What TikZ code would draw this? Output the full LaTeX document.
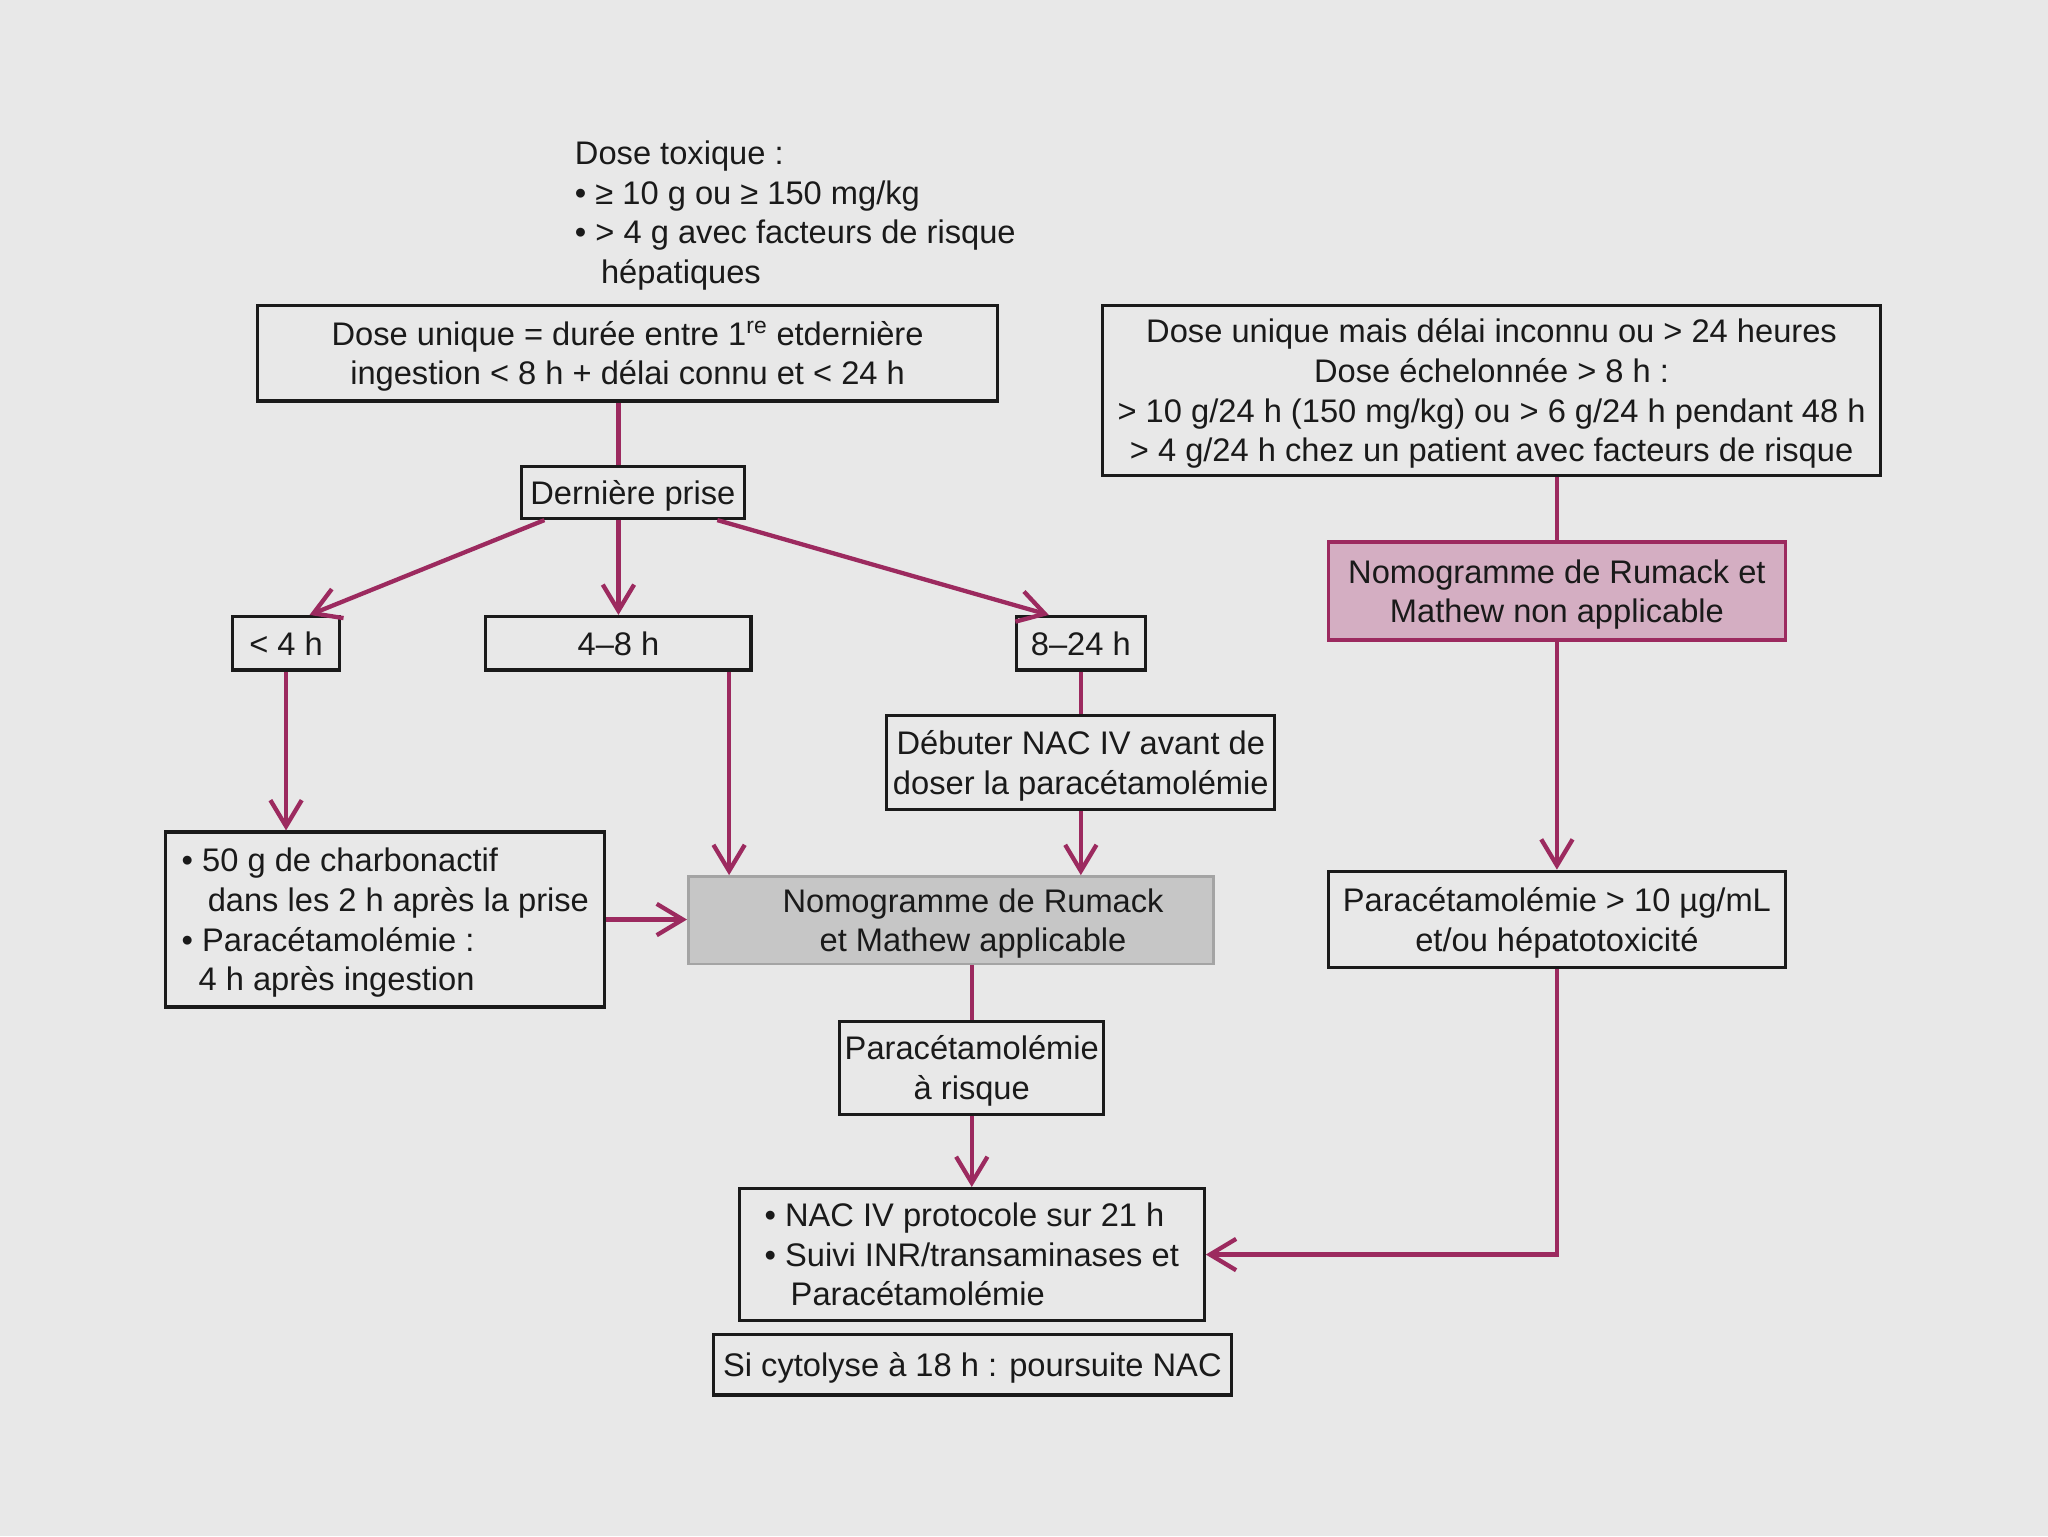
\documentclass[tikz,border=0pt]{standalone}
\usepackage{fontspec}
\setmainfont{Liberation Sans}
\usetikzlibrary{arrows.meta}
\definecolor{bg}{HTML}{E8E8E8}
\definecolor{mag}{HTML}{9C2A5F}
\definecolor{pinkfill}{HTML}{D4AEC2}
\definecolor{grayfill}{HTML}{C6C6C6}
\definecolor{grayline}{HTML}{A4A4A4}
\definecolor{ink}{HTML}{1A1A1A}
\newcommand\fs{\fontsize{25}{30.3}\selectfont}
\newcommand\tS{\rule{0pt}{24pt}}
\newcommand\bS{\rule[-6pt]{0pt}{0pt}}
\begin{document}
\begin{tikzpicture}[x=1pt,y=-1pt,
  box/.style={draw=ink, line width=2.4pt, inner sep=0pt, text=ink, align=center, font=\fs},
  lbox/.style={box, align=left},
  conn/.style={draw=mag, line width=3.3pt, line join=miter},
  arr/.style={conn, -{Straight Barb[length=20pt,width=24pt]}},
  txt/.style={inner sep=0pt, text=ink, font=\fs}
]
\fill[bg] (0,0) rectangle (1568,1176);
\useasboundingbox (0,0) rectangle (1568,1176);

% top free text
\node[txt, align=left, anchor=west] (tox) at (440,162.5)
  {\tS Dose toxique :\\
   \textbullet\ ≥ 10 g ou ≥ 150 mg/kg\\
   \textbullet\ > 4 g avec facteurs de risque\\
   \hspace*{20pt}hépatiques\bS};

% boxes
\node[box, minimum width=567pt, minimum height=73pt] (b1) at (480.5,270.5)
  {\tS Dose unique = durée entre 1\textsuperscript{re} etdernière\\
   ingestion < 8 h + délai connu et < 24 h\bS};
\node[box, minimum width=596pt, minimum height=130pt] (b2) at (1142,299)
  {\tS Dose unique mais délai inconnu ou > 24 heures\\
   Dose échelonnée > 8 h :\\
   > 10 g/24 h (150 mg/kg) ou > 6 g/24 h pendant 48 h\\
   > 4 g/24 h chez un patient avec facteurs de risque\bS};
\node[box, minimum width=171pt, minimum height=40pt] (dern) at (484.5,377) {\tS Dernière prise\bS};
\node[box, minimum width=82pt, minimum height=41pt] (lt4) at (219,492.5) {\tS < 4 h\bS};
\node[box, minimum width=203pt, minimum height=41pt] (h48) at (473.5,492.5) {\tS 4–8 h\bS};
\node[box, minimum width=99pt, minimum height=41pt] (h824) at (827.5,492.5) {\tS 8–24 h\bS};
\node[box, minimum width=297pt, minimum height=72pt] (debut) at (827.5,584)
  {\tS Débuter NAC IV avant de\\doser la paracétamolémie\bS};
\node[lbox, minimum width=336pt, minimum height=134pt] (charb) at (295,704)
  {\tS\textbullet\ 50 g de charbonactif\\
   \hspace*{20pt}dans les 2 h après la prise\\
   \textbullet\ Paracétamolémie :\\
   \hspace*{13pt}4 h après ingestion\bS};
\node[box, draw=grayline, line width=2pt, fill=grayfill, minimum width=402pt, minimum height=67pt] (nomo) at (728,704.5) {};
\node[txt, align=center] (nomotxt) at (745,704.5) {\tS Nomogramme de Rumack\\et Mathew applicable\bS};
\node[box, minimum width=202pt, minimum height=71pt] (parisk) at (744,817.5)
  {\tS Paracétamolémie\\à risque\bS};
\node[lbox, minimum width=356pt, minimum height=101pt] (nac) at (744,960.5)
  {\tS\textbullet\ NAC IV protocole sur 21 h\\
   \textbullet\ Suivi INR/transaminases et\\
   \hspace*{20pt}Paracétamolémie\bS};
\node[box, minimum width=397pt, minimum height=46pt] (cyto) at (744.5,1045)
  {\tS Si cytolyse à 18 h : poursuite NAC\bS};
\node[box, draw=mag, line width=2.5pt, fill=pinkfill, minimum width=350pt, minimum height=75pt] (pink) at (1192,452.5)
  {\tS Nomogramme de Rumack et\\Mathew non applicable\bS};
\node[box, minimum width=350pt, minimum height=74pt] (para10) at (1192,704)
  {\tS Paracétamolémie > 10 µg/mL\\et/ou hépatotoxicité\bS};

% connectors
\draw[conn] (b1.south -| h48.north) -- (dern.north -| h48.north);
\draw[arr] (dern.south -| h48.north) -- (h48.north);
\draw[arr] ([xshift=19pt]dern.south west) -- ([xshift=18pt]lt4.north);
\draw[arr] ([xshift=-22pt]dern.south east) -- ([xshift=-24.5pt]h824.north);
\draw[arr] (lt4.south) -- (lt4.south |- charb.north);
\draw[arr] ([xshift=-18pt]h48.south east) -- ([xshift=-18pt]h48.south east |- nomo.north);
\draw[conn] (h824.south) -- (debut.north);
\draw[arr] (debut.south) -- (debut.south |- nomo.north);
\draw[arr] (charb.east) -- (charb.east -| nomo.west);
\draw[conn] (parisk.north |- nomo.south) -- (parisk.north);
\draw[arr] (parisk.south) -- (nac.north);
\draw[conn] (pink.north |- b2.south) -- (pink.north);
\draw[arr] (pink.south) -- (para10.north);
\draw[arr] (para10.south) |- (nac.east);
\end{tikzpicture}
\end{document}
